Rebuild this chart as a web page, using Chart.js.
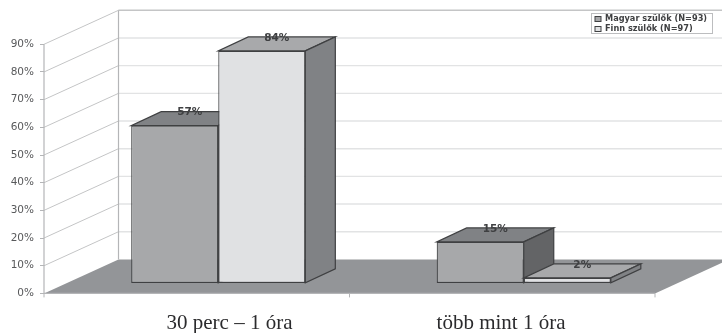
<!DOCTYPE html>
<html>
<head>
<meta charset="utf-8">
<style>
  html, body { margin: 0; padding: 0; background: #fff; }
  #wrap { width: 722px; height: 333px; position: relative; overflow: hidden; }
  /* the original is a soft scan */
  canvas { filter: blur(0.35px); }
</style>
<script src="https://cdn.jsdelivr.net/npm/chart.js@4"></script>
</head>
<body>
<div id="wrap"><canvas id="chart"></canvas></div>
<script>
// Data
const categories = ['30 perc – 1 óra', 'több mint 1 óra'];
const magyar = [57, 15];
const finn = [84, 2];
const seriesNames = ['Magyar szülők (N=93)', 'Finn szülők (N=97)'];

// first category label sits off centre in the original layout
const labelCentres = [229.5, 501];

// fake 3D geometry
const wallDx = 74.5, wallDy = -34;
const barShiftX = 21.5, barShiftY = -10;
const depthX = 30, depthY = -14;

const OUTLINE = '#3f4042';
const faces = [
  { front: '#a7a8aa', top: '#808285', side: '#636466' },
  { front: '#e0e1e3', top: '#a8a9ab', side: '#808285' }
];

function poly(ctx, pts, fill, stroke, width) {
  ctx.beginPath();
  pts.forEach((p, i) => i ? ctx.lineTo(p[0], p[1]) : ctx.moveTo(p[0], p[1]));
  ctx.closePath();
  if (fill) { ctx.fillStyle = fill; ctx.fill(); }
  if (stroke) { ctx.strokeStyle = stroke; ctx.lineWidth = width; ctx.stroke(); }
}

function line(ctx, x1, y1, x2, y2, color, width) {
  ctx.beginPath();
  ctx.moveTo(x1, y1);
  ctx.lineTo(x2, y2);
  ctx.strokeStyle = color;
  ctx.lineWidth = width;
  ctx.stroke();
}

const box3d = {
  id: 'box3d',

  // walls, floor, gridlines
  beforeDatasetsDraw(chart) {
    const ctx = chart.ctx;
    const a = chart.chartArea;
    const y = chart.scales.y;
    ctx.save();
    y.ticks.forEach(t => {
      const py = y.getPixelForValue(t.value);
      if (t.value > 0) {
        line(ctx, a.left, py, a.left + wallDx, py + wallDy, '#c4c5c6', 1);
        line(ctx, a.left + wallDx, py + wallDy, chart.width, py + wallDy, t.value === 90 ? '#c4c5c6' : '#e2e3e4', 1.4);
      }
    });
    poly(ctx, [
      [a.left, a.bottom],
      [a.left + wallDx, a.bottom + wallDy],
      [a.right + wallDx, a.bottom + wallDy],
      [a.right, a.bottom]
    ], '#939598');
    line(ctx, a.left, a.top, a.left, a.bottom, '#b4b5b7', 1.2);
    line(ctx, a.left + wallDx, a.top + wallDy, a.left + wallDx, a.bottom + wallDy, '#b4b5b7', 1.2);
    line(ctx, a.left, a.bottom, a.right, a.bottom, '#b4b5b7', 1.2);
    // x ticks
    [a.left, (a.left + a.right) / 2, a.right].forEach(px => line(ctx, px, a.bottom, px, a.bottom + 4, '#b4b5b7', 1));
    ctx.restore();
  },

  // Chart.js paints the first dataset last; skip its pass and paint left to right below
  beforeDatasetDraw() {
    return false;
  },

  afterDatasetsDraw(chart) {
    const ctx = chart.ctx;

    // top and side faces first, then the library's front, all shifted back onto the floor
    chart.data.datasets.forEach((ds, i) => {
      const meta = chart.getDatasetMeta(i);
      const f = faces[i];
      ctx.save();
      ctx.translate(barShiftX, barShiftY);
      meta.data.forEach(bar => {
        const p = bar.getProps(['x', 'y', 'base', 'width'], true);
        const l = p.x - p.width / 2, r = p.x + p.width / 2;
        poly(ctx, [[l, p.y], [r, p.y], [r + depthX, p.y + depthY], [l + depthX, p.y + depthY]], f.top, OUTLINE, 1.2);
        poly(ctx, [[r, p.y], [r + depthX, p.y + depthY], [r + depthX, p.base + depthY], [r, p.base]], f.side, OUTLINE, 1.2);
      });
      meta.controller.draw();
      ctx.restore();
    });

    // value labels
    ctx.save();
    ctx.textAlign = 'center';
    ctx.textBaseline = 'middle';
    ctx.fillStyle = '#3f4042';
    ctx.font = 'bold 10.5px "DejaVu Sans"';
    chart.data.datasets.forEach((ds, i) => {
      chart.getDatasetMeta(i).data.forEach((bar, j) => {
        const p = bar.getProps(['x', 'y'], true);
        ctx.fillText(ds.data[j] + '%', p.x + barShiftX + depthX / 2, p.y + barShiftY + depthY + 1);
      });
    });

    // category labels
    ctx.font = '21px "Liberation Serif"';
    ctx.fillStyle = '#2b2b2d';
    categories.forEach((c, i) => ctx.fillText(c, labelCentres[i], 323));

    // legend
    ctx.fillStyle = '#fff';
    ctx.fillRect(591.5, 13.5, 121, 20);
    ctx.strokeStyle = '#bcbdbf';
    ctx.lineWidth = 1;
    ctx.strokeRect(591.5, 13.5, 121, 20);
    ctx.textAlign = 'left';
    ctx.font = 'bold 8.2px "DejaVu Sans"';
    seriesNames.forEach((name, i) => {
      const rowY = 19 + i * 10;
      ctx.fillStyle = faces[i].front;
      ctx.fillRect(595, rowY - 2.5, 6, 5);
      ctx.strokeStyle = OUTLINE;
      ctx.strokeRect(595, rowY - 2.5, 6, 5);
      ctx.fillStyle = '#3f4042';
      ctx.fillText(name, 605, rowY);
    });
    ctx.restore();
  }
};

new Chart(document.getElementById('chart'), {
  type: 'bar',
  data: {
    labels: categories,
    datasets: [
      {
        label: seriesNames[0],
        data: magyar,
        backgroundColor: faces[0].front,
        borderColor: OUTLINE,
        borderWidth: 1.2,
        borderSkipped: false,
        clip: false
      },
      {
        label: seriesNames[1],
        data: finn,
        backgroundColor: faces[1].front,
        borderColor: OUTLINE,
        borderWidth: 1.2,
        borderSkipped: false,
        clip: false
      }
    ]
  },
  options: {
    responsive: true,
    maintainAspectRatio: false,
    animation: false,
    layout: { padding: { top: 44.3, right: 67 } },
    datasets: { bar: { categoryPercentage: 0.57, barPercentage: 1 } },
    plugins: { legend: { display: false }, tooltip: { enabled: false } },
    scales: {
      x: {
        grid: { display: false },
        border: { display: false },
        ticks: { display: false },
        afterFit: scale => { scale.height = 39.6; }
      },
      y: {
        min: 0,
        max: 90,
        grid: { drawOnChartArea: false, tickLength: 4, tickColor: '#b4b5b7' },
        border: { display: false },
        ticks: {
          stepSize: 10,
          padding: 6,
          color: '#58595b',
          font: { family: '"DejaVu Sans"', size: 10.5 },
          callback: v => v + '%'
        },
        afterFit: scale => { scale.width = 44; }
      }
    }
  },
  plugins: [box3d]
});
</script>
</body>
</html>
